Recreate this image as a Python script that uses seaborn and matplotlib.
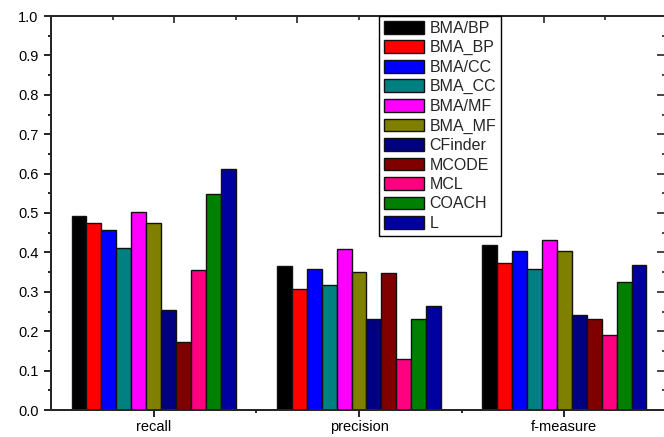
import matplotlib
matplotlib.use("Agg")
import matplotlib.pyplot as plt
from matplotlib.ticker import MultipleLocator, FixedLocator, NullFormatter
import seaborn as sns
import pandas as pd

metrics = ["recall", "precision", "f-measure"]
methods = ["BMA/BP", "BMA_BP", "BMA/CC", "BMA_CC", "BMA/MF", "BMA_MF",
           "CFinder", "MCODE", "MCL", "COACH", "L"]
recall = [0.493, 0.475, 0.456, 0.410, 0.503, 0.475, 0.254, 0.172, 0.355, 0.549, 0.612]
precision = [0.365, 0.307, 0.359, 0.316, 0.408, 0.349, 0.230, 0.347, 0.130, 0.230, 0.263]
f_measure = [0.418, 0.373, 0.403, 0.357, 0.432, 0.403, 0.241, 0.230, 0.190, 0.324, 0.368]
colors = ["#000000", "#FF0000", "#0000FF", "#008080", "#FF00FF", "#808000",
          "#000080", "#800000", "#FF0080", "#008000", "#0000A0"]

rows = []
for metric, vals in zip(metrics, [recall, precision, f_measure]):
    for method, v in zip(methods, vals):
        rows.append({"metric": metric, "method": method, "value": v})
df = pd.DataFrame(rows)

sns.set_style("ticks")
plt.rcParams["font.family"] = ["Liberation Sans", "DejaVu Sans"]

W, H = 664, 437
fig = plt.figure(figsize=(W / 100, H / 100), dpi=100)
ax = fig.add_axes([51 / W, (H - 410) / H, (667 - 51) / W, (410 - 16) / H])

sns.barplot(data=df, x="metric", y="value", hue="method", order=metrics,
            hue_order=methods, palette=colors, saturation=1, width=0.8,
            edgecolor="#111111", linewidth=1.0, ax=ax, legend=True)

ax.set_xlim(-0.5, 2.5)
ax.set_ylim(0, 1.0)
ax.set_xlabel("")
ax.set_ylabel("")

lw = 1.2
for s in ax.spines.values():
    s.set_visible(True)
    s.set_linewidth(lw)
    s.set_color("black")

ax.yaxis.set_major_locator(MultipleLocator(0.1))
ax.yaxis.set_minor_locator(MultipleLocator(0.05))
ax.yaxis.set_major_formatter(matplotlib.ticker.FormatStrFormatter("%.1f"))
ax.xaxis.set_minor_locator(FixedLocator([0.5, 1.5]))
ax.tick_params(axis="both", which="major", direction="out", length=5,
               width=lw, labelsize=10.5, color="black", labelcolor="black")
ax.tick_params(axis="both", which="minor", direction="out", length=2.5,
               width=lw, color="black")
ax.tick_params(axis="x", which="major", pad=2.5)
ax.tick_params(axis="y", which="major", pad=4)

# mirrored axis on the right with inward ticks
axr = ax.twinx()
axr.set_ylim(0, 1.0)
axr.yaxis.set_major_locator(MultipleLocator(0.1))
axr.yaxis.set_minor_locator(MultipleLocator(0.05))
axr.yaxis.set_major_formatter(NullFormatter())
axr.tick_params(axis="y", which="major", direction="in", length=7, width=lw)
axr.tick_params(axis="y", which="minor", direction="in", length=3.5, width=lw)

# top axis with its own inward ticks
axt = ax.twiny()
axt.set_xlim(0, 10)
axt.xaxis.set_major_locator(MultipleLocator(2))
axt.xaxis.set_minor_locator(MultipleLocator(1))
axt.xaxis.set_major_formatter(NullFormatter())
axt.tick_params(axis="x", which="major", direction="in", length=5, width=lw)
axt.tick_params(axis="x", which="minor", direction="in", length=3, width=lw)
for a in (axr, axt):
    for s in a.spines.values():
        s.set_linewidth(lw)

handles, labels = ax.get_legend_handles_labels()
ax.get_legend().remove()
leg = fig.legend(handles, labels, loc="upper left",
                 bbox_to_anchor=(379 / W, (H - 16) / H),
                 bbox_transform=fig.transFigure, borderaxespad=0,
                 frameon=True, fancybox=False, framealpha=1,
                 edgecolor="black", fontsize=11.5, handlelength=2.5,
                 handleheight=0.85, labelspacing=0.28, handletextpad=0.35,
                 borderpad=0.3)
leg.get_frame().set_linewidth(1.0)
leg.set_zorder(10)

fig.savefig("out.png", dpi=100)
